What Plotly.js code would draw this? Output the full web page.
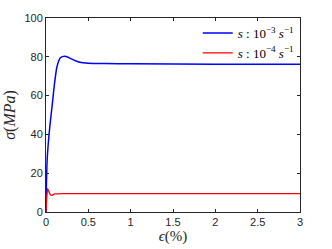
<!DOCTYPE html>
<html><head><meta charset="utf-8">
<script src="https://cdn.plot.ly/plotly-3.0.1.min.js"></script>
<style>html,body{margin:0;padding:0;background:#fff}#c{width:332px;height:249px}</style>
</head><body><div id="c"></div>
<script>
const strainFast = [0, 0.005, 0.015, 0.03, 0.045, 0.06, 0.078, 0.1, 0.13, 0.17, 0.22, 0.27, 0.33, 0.4, 0.5, 0.7, 1, 2, 3];
const stressFast = [0, 15, 28, 37, 44, 50, 57, 66, 75, 79.5, 80.3, 79.6, 78.3, 77.2, 76.7, 76.5, 76.4, 76.2, 76.1];
const strainSlow = [0, 0.01, 0.02, 0.035, 0.05, 0.07, 0.1, 0.2, 1, 2, 3];
const stressSlow = [0, 8, 12, 10.5, 9, 8.6, 9.3, 9.5, 9.5, 9.5, 9.5];
const labelFast = '<i>s</i> : 10<sup>−3</sup> <i>s</i><sup>−1</sup>';
const labelSlow = '<i>s</i> : 10<sup>−4</sup> <i>s</i><sup>−1</sup>';
const xTicks = [0, 0.5, 1, 1.5, 2, 2.5, 3];
const xTickText = ['0', '0.5', '1', '1.5', '2', '2.5', '3'];
const yTicks = [0, 20, 40, 60, 80, 100];

const serif = 'Liberation Serif, DejaVu Serif, serif';
const axisCommon = {
  showline: true, linecolor: '#262626', linewidth: 1, mirror: 'ticks',
  ticks: 'inside', ticklen: 3, tickcolor: '#262626', tickwidth: 1,
  showgrid: false, zeroline: false,
  tickfont: {family: 'Liberation Sans, Arial, sans-serif', size: 11, color: '#262626'}
};
const data = [
  {x: strainFast, y: stressFast, type: 'scatter', mode: 'lines', name: labelFast,
   line: {color: '#0000ff', width: 1.5, shape: 'spline', smoothing: 0.6}},
  {x: strainSlow, y: stressSlow, type: 'scatter', mode: 'lines', name: labelSlow,
   line: {color: '#ff0000', width: 1.3, shape: 'spline', smoothing: 0.4}}
];
const layout = {
  width: 332, height: 249,
  margin: {l: 46, r: 32, t: 18, b: 37},
  paper_bgcolor: '#fff', plot_bgcolor: '#fff',
  showlegend: true,
  legend: {x: 0.995, xanchor: 'right', y: 1, yanchor: 'top', bgcolor: 'rgba(0,0,0,0)',
    font: {family: serif, size: 13, color: '#000'},
    tracegroupgap: 0, itemwidth: 30},
  xaxis: Object.assign({}, axisCommon, {range: [0, 3], tickvals: xTicks, ticktext: xTickText,
    title: {text: '<i>ϵ</i>(%)', font: {family: serif, size: 15, color: '#262626'}, standoff: 3}}),
  yaxis: Object.assign({}, axisCommon, {range: [0, 100], tickvals: yTicks,
    title: {text: '<i>σ</i>(<i>MPa</i>)', font: {family: serif, size: 16, color: '#262626'}, standoff: 4}})
};
Plotly.newPlot('c', data, layout, {staticPlot: true, displayModeBar: false});
</script></body></html>
